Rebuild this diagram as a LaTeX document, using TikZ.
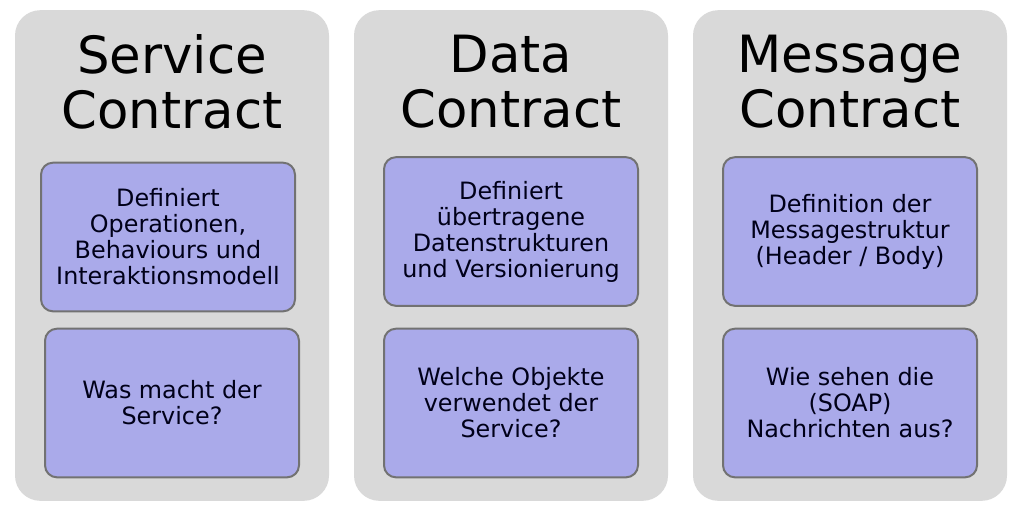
\documentclass[tikz,border=0pt]{standalone}
\usepackage{fontspec}
\setmainfont{DejaVu Sans}
\usepackage{tikz}
\usetikzlibrary{positioning}

\definecolor{panelgray}{HTML}{D9D9D9}
\definecolor{boxblue}{HTML}{AAAAEA}
\definecolor{boxline}{HTML}{727272}

\tikzset{
	panel/.style={fill=panelgray, rounded corners=19pt,
		minimum width=235.5pt, minimum height=368pt, inner sep=0pt},
	heading/.style={align=center, font=\fontsize{38.5}{41.25}\selectfont},
	topic/.style={draw=boxline, line width=1.5pt, fill=boxblue,
		rounded corners=9pt, minimum width=190.5pt, minimum height=111.5pt,
		align=center, text=black!90!blue, font=\fontsize{17.9}{19.5}\selectfont}
}

\begin{document}
\begin{tikzpicture}[x=0.75pt,y=-0.75pt]
		\useasboundingbox (0,0) rectangle (1019,511);

		% columns
		\node[panel] (sc) at (172,255.5) {};
		\node[panel] (dc) at (511,255.5) {};
		\node[panel] (mc) at (850,255.5) {};

		% headings
		\node[heading] (scT) at (172,82) {Service\\Contract};
		\node[heading] (dcT) at (511,82) {Data\\Contract};
		\node[heading] (mcT) at (850,82) {Message\\Contract};

		% Service Contract
		\node[topic] (sc1) at (168,237)
			{Definiert\\Operationen,\\Behaviours und\\Interaktionsmodell};
		\node[topic] (sc2) at (172,403) {Was macht der\\Service?};

		% Data Contract
		\node[topic] (dc1) at (511,231.5)
			{Definiert\\übertragene\\Datenstrukturen\\und Versionierung};
		\node[topic] (dc2) at (511,403) {Welche Objekte\\verwendet der\\Service?};

		% Message Contract
		\node[topic] (mc1) at (850,231.5)
			{Definition der\\Messagestruktur\\(Header / Body)};
		\node[topic] (mc2) at (850,403) {Wie sehen die\\(SOAP)\\Nachrichten aus?};
\end{tikzpicture}
\end{document}
